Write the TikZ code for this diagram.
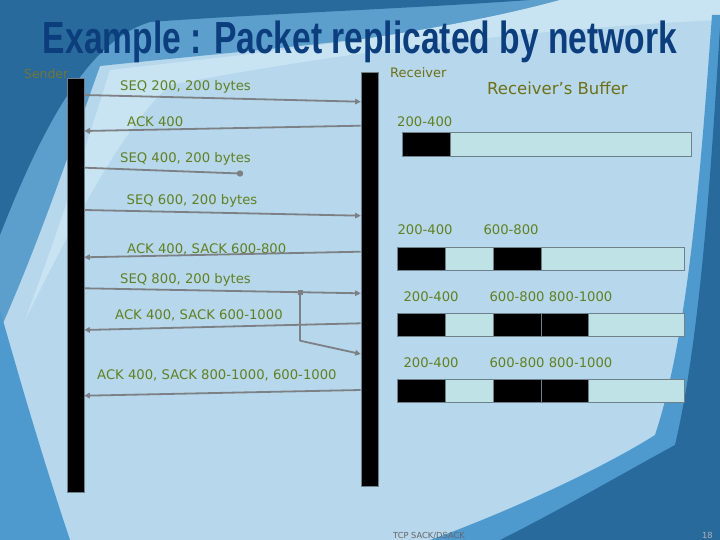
\documentclass[tikz,border=0pt]{standalone}
\usepackage{fontspec}
\setmainfont{DejaVu Sans}
\newfontfamily\titlefont{Liberation Sans}
\usetikzlibrary{arrows.meta,calc}
\definecolor{bglight}{RGB}{182,215,236}
\definecolor{bgdark}{RGB}{40,106,156}
\definecolor{bgmid}{RGB}{78,154,206}
\definecolor{bgtitle}{RGB}{92,158,204}
\definecolor{bgpale}{RGB}{200,228,242}
\definecolor{titleblue}{RGB}{12,62,125}
\definecolor{txtgreen}{RGB}{98,128,34}
\definecolor{txtolive}{RGB}{110,112,22}
\definecolor{arrowgray}{RGB}{125,128,132}
\definecolor{bufcyan}{RGB}{190,226,230}
\definecolor{bufedge}{RGB}{110,128,138}
\tikzset{
  lbl/.style={font=\fontsize{13.2pt}{15pt}\selectfont, text=txtgreen, inner sep=0pt, anchor=base west},
  bar/.style={fill=black, draw=bufedge, line width=0.5pt, anchor=north west, inner sep=0pt},
  buf/.style={fill=bufcyan, draw=bufedge, line width=0.8pt, anchor=north west, inner sep=0pt, minimum height=23.5pt},
  blk/.style={fill=black, draw=bufedge, line width=0.8pt, anchor=north west, inner sep=0pt, minimum height=23.5pt, minimum width=47.8pt},
  conn/.style={draw=arrowgray, line width=1.8pt, -{Triangle[length=5.5pt,width=5.5pt]}},
  plainconn/.style={draw=arrowgray, line width=1.8pt},
}
\begin{document}
\begin{tikzpicture}[x=1pt,y=-1pt]
\useasboundingbox (0,0) rectangle (720,540);
% background
\fill[bglight] (0,0) rectangle (720,540);
\fill[bgtitle] (0,0) -- (620,0) .. controls (450,35) and (250,50) .. (100,66) .. controls (70,150) and (40,240) .. (0,330) -- cycle;
\fill[bgpale] (560,0) .. controls (420,38) and (240,55) .. (110,70) .. controls (85,150) and (55,240) .. (25,320) .. controls (70,230) and (120,130) .. (170,85) .. controls (300,60) and (500,30) .. (720,20) -- (720,0) -- cycle;
\fill[bgmid] (0,310) .. controls (20,380) and (40,450) .. (70,540) -- (0,540) -- cycle;
\fill[bgdark] (0,0) -- (530,0) .. controls (420,8) and (260,14) .. (150,22) .. controls (90,40) and (45,120) .. (0,235) -- cycle;
\fill[bgmid] (712,15) .. controls (702,150) and (690,330) .. (655,435) .. controls (600,470) and (500,515) .. (430,540) -- (720,540) -- (720,15) -- cycle;
\fill[bgdark] (720,28) .. controls (712,150) and (702,330) .. (675,445) .. controls (620,475) and (560,510) .. (500,540) -- (720,540) -- cycle;
% title
\node[anchor=base, text=titleblue, inner sep=0pt] (title) at (360,53.3)
  {\resizebox{634pt}{32.6pt}{\titlefont\bfseries Example : Packet replicated by network}};
% headers
\node[lbl, text=txtolive!70!gray, font=\fontsize{12.4pt}{14pt}\selectfont] (sender) at (24,79) {Sender};
\node[lbl, text=txtolive, font=\fontsize{13pt}{15pt}\selectfont] (receiver) at (390,78) {Receiver};
\node[lbl, text=txtolive, font=\fontsize{16.5pt}{19pt}\selectfont] (rbuf) at (487,95) {Receiver’s Buffer};
% bars
\node[bar, minimum width=17.4pt, minimum height=414pt] (snd) at (66.7,78.3) {};
\node[bar, minimum width=17.6pt, minimum height=413.7pt] (rcv) at (360.7,72.3) {};
% endpoint coordinates
\coordinate (s1) at (84.3,95);   \coordinate (r1) at (360.7,101.7);
\coordinate (r2) at (360.7,125.7); \coordinate (s2) at (84.3,131);
\coordinate (s3) at (84.3,167.7); \coordinate (lost) at (240,173.5);
\coordinate (s4) at (84.3,210);  \coordinate (r4) at (360.7,215.7);
\coordinate (r5) at (360.7,251.7); \coordinate (s5) at (84.3,257.3);
\coordinate (s6) at (84.3,288.3); \coordinate (r6) at (360.7,293.3);
\coordinate (br) at (300,292.6); \coordinate (bk) at (300,340.7); \coordinate (r6b) at (360.7,354);
\coordinate (r7) at (360.7,323.3); \coordinate (s7) at (84.3,330);
\coordinate (r8) at (360.7,390);  \coordinate (s8) at (84.3,395.7);
% messages
\node[lbl] (m1) at (120,91) {SEQ 200, 200 bytes};
\draw[conn] (s1) -- (r1);
\node[lbl] (m2) at (127,127) {ACK 400};
\draw[conn] (r2) -- (s2);
\node[lbl] (m3) at (120,163) {SEQ 400, 200 bytes};
\draw[plainconn] (s3) -- (lost);
\fill[arrowgray] (lost) circle (3.2pt);
\node[lbl] (m4) at (126.5,205) {SEQ 600, 200 bytes};
\draw[conn] (s4) -- (r4);
\node[lbl] (m5) at (127,253) {ACK 400, SACK 600-800};
\draw[conn] (r5) -- (s5);
\node[lbl] (m6) at (120,283) {SEQ 800, 200 bytes};
\draw[conn] (s6) -- (r6);
\fill[arrowgray] ($(br)+(-2.5,-2.5)$) rectangle ($(br)+(2.5,2.5)$);
\draw[plainconn] (br) -- (bk);
\draw[conn] (bk) -- (r6b);
\node[lbl] (m7) at (115,319) {ACK 400, SACK 600-1000};
\draw[conn] (r7) -- (s7);
\node[lbl] (m8) at (97,379) {ACK 400, SACK 800-1000, 600-1000};
\draw[conn] (r8) -- (s8);
% buffers
\node[lbl] (l1a) at (397,127) {200-400};
\node[buf, minimum width=288.4pt] (b1) at (402.3,132.3) {};
\node[blk] (b1x) at (402.3,132.3) {};
\node[lbl] (l2a) at (397.3,235) {200-400};
\node[lbl] (l2b) at (483.3,235) {600-800};
\node[buf, minimum width=287.6pt] (b2) at (396.7,246.7) {};
\node[blk] (b2x) at (396.7,246.7) {};
\node[blk] (b2y) at (492.7,246.7) {};
\node[lbl] (l3a) at (403.3,301) {200-400};
\node[lbl] (l3b) at (489.3,301) {600-800 800-1000};
\node[buf, minimum width=287.6pt] (b3) at (396.7,312.7) {};
\node[blk] (b3x) at (396.7,312.7) {};
\node[blk] (b3y) at (492.7,312.7) {};
\node[blk] (b3z) at (540.5,312.7) {};
\node[lbl] (l4a) at (403.3,367) {200-400};
\node[lbl] (l4b) at (489.3,367) {600-800 800-1000};
\node[buf, minimum width=287.6pt] (b4) at (396.7,378.7) {};
\node[blk] (b4x) at (396.7,378.7) {};
\node[blk] (b4y) at (492.7,378.7) {};
\node[blk] (b4z) at (540.5,378.7) {};
% footer
\node[lbl, text=gray!80!black, font=\fontsize{8.3pt}{10pt}\selectfont] (foot) at (393,538) {TCP SACK/DSACK};
\node[lbl, text=gray!60, font=\fontsize{8.3pt}{10pt}\selectfont] (pg) at (702,538) {18};
\end{tikzpicture}
\end{document}
